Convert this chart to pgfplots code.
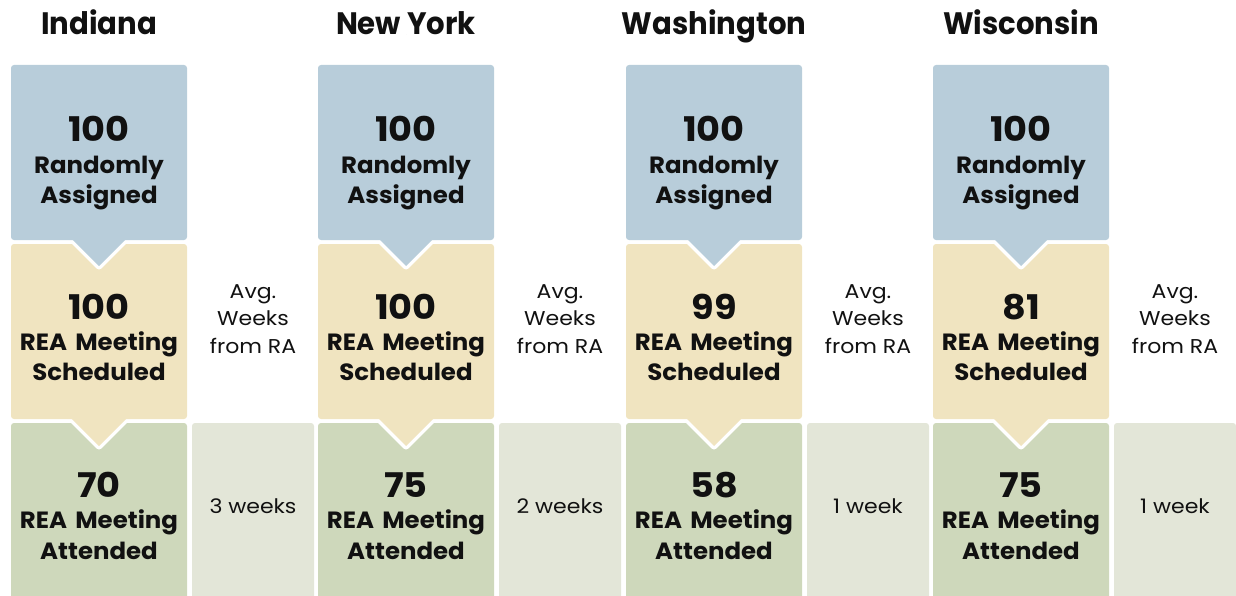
\documentclass[border=0pt]{standalone}
\usepackage{pgfplots}
\usepackage{pgfplotstable}
\pgfplotsset{compat=1.18}
\usepackage{fontspec}
\setmainfont{Poppins}
\newfontfamily\titlefam[FakeStretch=0.94]{Poppins}
\newfontfamily\numfam[FakeStretch=1.08]{Poppins}
\newfontfamily\lblfam[FakeStretch=1.04]{Poppins}
\newfontfamily\greyfam[FakeStretch=1.1]{Poppins}
\definecolor{cBlue}{HTML}{B8CDDA}
\definecolor{cYellow}{HTML}{F0E4C0}
\definecolor{cGreen}{HTML}{CED8BB}
\definecolor{cGrey}{HTML}{E3E6D8}
\definecolor{cText}{HTML}{111111}

\pgfplotstableread[col sep=comma]{
state,x,ra,sched,att,weeks
Indiana,99,100,100,70,3 weeks
New York,406,100,100,75,2 weeks
Washington,714,100,99,58,1 week
Wisconsin,1021,100,81,75,1 week
}\data

\newcommand{\titlefont}{\fontsize{31bp}{31bp}\titlefam\bfseries}
\newcommand{\numfont}{\fontsize{34bp}{34bp}\numfam\bfseries}
\newcommand{\lblfont}{\fontsize{23.5bp}{23.5bp}\lblfam\bfseries}
\newcommand{\greyfont}{\fontsize{20bp}{20bp}\greyfam}

\pgfplotsset{
  lbl/.style={only marks, mark=*, mark size=0pt, mark options={draw=none,fill=none},
    nodes near coords, point meta=explicit symbolic,
    every node near coord/.append style={anchor=base, inner sep=0pt, text=cText, font=#1}},
}

\begin{document}
\begin{tikzpicture}
\begin{axis}[name=ax, width=1236bp, height=596bp, scale only axis,
  xmin=0, xmax=1236, ymin=0, ymax=596, y dir=reverse, hide axis, clip=true]

\pgfplotsinvokeforeach{99,406,714,1021}{
  % bottom row
  \fill[cGreen, rounded corners=3bp] (axis cs:{#1-88},423) rectangle (axis cs:{#1+88},605);
  \fill[cGrey, rounded corners=3bp] (axis cs:{#1+93},423) rectangle (axis cs:{#1+215},605);
  % notch yellow -> green
  \draw[white, line width=7bp, line join=round] (axis cs:{#1-33},413) -- (axis cs:{#1},446) -- (axis cs:{#1+33},413);
  \fill[cYellow] (axis cs:{#1-33},413) -- (axis cs:{#1},446) -- (axis cs:{#1+33},413) -- cycle;
  \fill[cYellow, rounded corners=3bp] (axis cs:{#1-88},244) rectangle (axis cs:{#1+88},419);
  % notch blue -> yellow
  \draw[white, line width=7bp, line join=round] (axis cs:{#1-33},233) -- (axis cs:{#1},266) -- (axis cs:{#1+33},233);
  \fill[cBlue] (axis cs:{#1-33},233) -- (axis cs:{#1},266) -- (axis cs:{#1+33},233) -- cycle;
  \fill[cBlue, rounded corners=3bp] (axis cs:{#1-88},65) rectangle (axis cs:{#1+88},240);
  % static labels
  \node[anchor=base, inner sep=0pt, text=cText, font=\lblfont] at (axis cs:#1,173) {Randomly};
  \node[anchor=base, inner sep=0pt, text=cText, font=\lblfont] at (axis cs:#1,203) {Assigned};
  \node[anchor=base, inner sep=0pt, text=cText, font=\lblfont] at (axis cs:#1,350) {REA\hspace{3bp} Meeting};
  \node[anchor=base, inner sep=0pt, text=cText, font=\lblfont] at (axis cs:#1,380) {Scheduled};
  \node[anchor=base, inner sep=0pt, text=cText, font=\lblfont] at (axis cs:#1,528) {REA\hspace{3bp} Meeting};
  \node[anchor=base, inner sep=0pt, text=cText, font=\lblfont] at (axis cs:#1,559) {Attended};
  \node[anchor=base, inner sep=0pt, text=cText, font=\greyfont] at (axis cs:{#1+154},298) {Avg.};
  \node[anchor=base, inner sep=0pt, text=cText, font=\greyfont] at (axis cs:{#1+154},325) {Weeks};
  \node[anchor=base, inner sep=0pt, text=cText, font=\greyfont] at (axis cs:{#1+154},353) {from RA};
}

\addplot[lbl=\titlefont] table[x=x, y expr=35, meta=state] {\data};
\addplot[lbl=\numfont] table[x=x, y expr=141, meta=ra] {\data};
\addplot[lbl=\numfont] table[x=x, y expr=319, meta=sched] {\data};
\addplot[lbl=\numfont] table[x=x, y expr=497, meta=att] {\data};
\addplot[lbl=\greyfont] table[x expr=\thisrow{x}+154, y expr=513, meta=weeks] {\data};
\end{axis}
\pgfresetboundingbox
\useasboundingbox (ax.south west) rectangle (ax.north east);
\end{tikzpicture}
\end{document}
